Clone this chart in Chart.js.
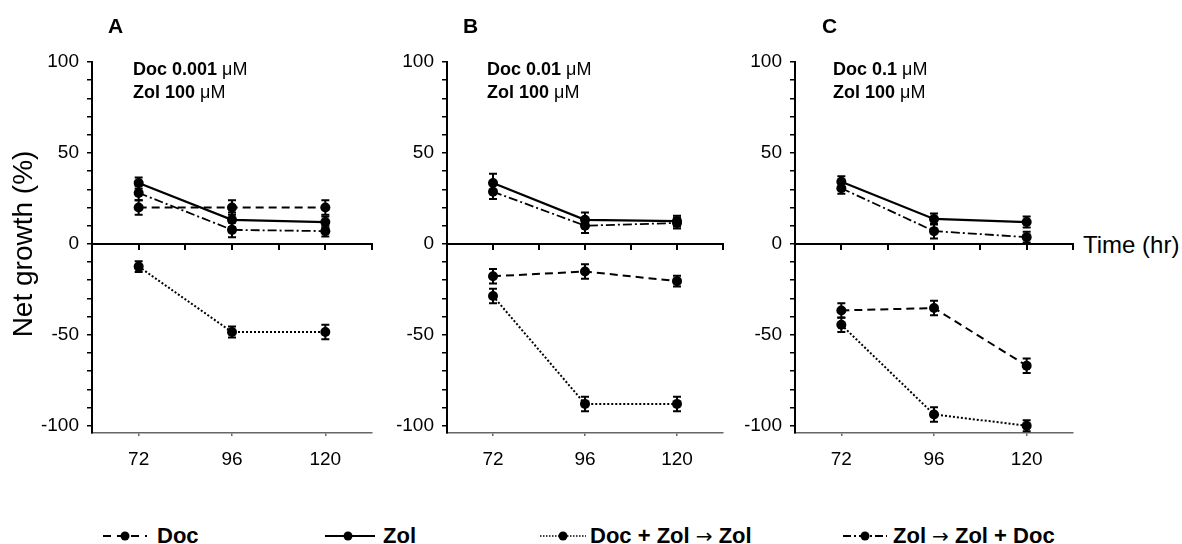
<!DOCTYPE html>
<html>
<head>
<meta charset="utf-8">
<script src="https://cdn.jsdelivr.net/npm/chart.js@4.4.1/dist/chart.umd.min.js"></script>
<style>
  body { margin: 0; background: #fff; font-family: "Liberation Sans", Arial, sans-serif; }
  #wrap { position: relative; width: 1182px; height: 544px; overflow: hidden; }
  .cv { position: absolute; top: 0; }
  .txt { position: absolute; white-space: nowrap; color: #000; }
  .letter { font-size: 21px; font-weight: bold; line-height: 21px; }
  .note { font-size: 18px; font-weight: bold; line-height: 23px; }
  .note span { font-weight: normal; }
  .leg { font-size: 22px; font-weight: bold; line-height: 22px; top: 525px; }
  .leg .arr { font-family: "DejaVu Sans", sans-serif; font-weight: normal; font-size: 20px; }
  .legsvg { position: absolute; top: 526px; }
</style>
</head>
<body>
<div id="wrap">
  <canvas id="cA" class="cv" width="380" height="480" style="left:0px;width:380px;height:480px"></canvas>
  <canvas id="cB" class="cv" width="335" height="480" style="left:397px;width:335px;height:480px"></canvas>
  <canvas id="cC" class="cv" width="337" height="480" style="left:745px;width:337px;height:480px"></canvas>

  <div class="txt letter" style="left:108px;top:15px">A</div>
  <div class="txt letter" style="left:463px;top:15px">B</div>
  <div class="txt letter" style="left:822px;top:15px">C</div>

  <div class="txt note" style="left:133px;top:58px">Doc 0.001 <span>μM</span><br>Zol 100 <span>μM</span></div>
  <div class="txt note" style="left:487px;top:58px">Doc 0.01 <span>μM</span><br>Zol 100 <span>μM</span></div>
  <div class="txt note" style="left:833px;top:58px">Doc 0.1 <span>μM</span><br>Zol 100 <span>μM</span></div>

  <div class="txt" style="left:-127px;top:230px;width:300px;text-align:center;font-size:28px;line-height:28px;transform:rotate(-90deg)">Net growth (%)</div>
  <div class="txt" style="left:1083px;top:233px;font-size:24px;line-height:24px">Time (hr)</div>

  <svg class="legsvg" style="left:103px" width="46" height="20">
    <line x1="0" y1="10" x2="44" y2="10" stroke="#000" stroke-width="2" stroke-dasharray="8,6"/>
    <circle cx="22" cy="10" r="4.5" fill="#000"/>
  </svg>
  <div class="txt leg" style="left:157px">Doc</div>

  <svg class="legsvg" style="left:325px" width="52" height="20">
    <line x1="0" y1="10" x2="50" y2="10" stroke="#000" stroke-width="2"/>
    <circle cx="23" cy="10" r="4.5" fill="#000"/>
  </svg>
  <div class="txt leg" style="left:383px">Zol</div>

  <svg class="legsvg" style="left:540px" width="48" height="20">
    <line x1="0" y1="10" x2="46" y2="10" stroke="#000" stroke-width="1.5" stroke-dasharray="1.5,1.5"/>
    <circle cx="23" cy="10" r="4.5" fill="#000"/>
  </svg>
  <div class="txt leg" style="left:590px">Doc + Zol <span class="arr">→</span> Zol</div>

  <svg class="legsvg" style="left:843px" width="46" height="20">
    <line x1="0" y1="10" x2="44" y2="10" stroke="#000" stroke-width="1.8" stroke-dasharray="8,3,2,3"/>
    <circle cx="22" cy="10" r="4.5" fill="#000"/>
  </svg>
  <div class="txt leg" style="left:893px">Zol <span class="arr">→</span> Zol + Doc</div>
</div>

<script>
// time points (hr)
const hours = [72, 96, 120];
const zeroAxisTicks = [60, 72, 84, 96, 108, 120, 132];
const yTicks = [-100, -90, -80, -70, -60, -50, -40, -30, -20, -10, 0, 10, 20, 30, 40, 50, 60, 70, 80, 90, 100];
const yLabels = [-100, -50, 0, 50, 100];

// Panel A: Doc 0.001 uM
const docA = [20, 20, 20];
const docErrA = [4, 4, 4];
const zolA = [33.5, 13.2, 12];
const zolErrA = [3, 4, 3];
const docZolA = [-12.5, -48.5, -48.5];
const docZolErrA = [3, 3, 4];
const zolDocA = [28, 7.7, 7];
const zolDocErrA = [4, 4, 3];

// Panel B: Doc 0.01 uM
const docB = [-17.8, -15.2, -20.5];
const docErrB = [4, 4, 3];
const zolB = [33.5, 13.2, 12.5];
const zolErrB = [5, 4, 3];
const docZolB = [-28.7, -88, -88];
const docZolErrB = [4, 4, 4];
const zolDocB = [28.7, 10, 11.5];
const zolDocErrB = [4, 4, 3];

// Panel C: Doc 0.1 uM
const docC = [-36.6, -35.3, -67];
const docErrC = [4, 4, 4];
const zolC = [34.2, 13.7, 12];
const zolErrC = [3, 3, 3];
const docZolC = [-44.5, -93.8, -100];
const docZolErrC = [4, 4, 3];
const zolDocC = [30.6, 7, 3.7];
const zolDocErrC = [3, 4, 3];

Chart.defaults.font.family = '"Liberation Sans", Arial, sans-serif';
Chart.defaults.color = '#000';

// vertical error bars with caps
const errorBars = {
  id: 'errorBars',
  afterDatasetsDraw(chart) {
    const ctx = chart.ctx;
    const ys = chart.scales.y;
    chart.data.datasets.forEach((ds, i) => {
      const meta = chart.getDatasetMeta(i);
      meta.data.forEach((pt, j) => {
        const v = ds.data[j].y, e = ds.err[j];
        const t = ys.getPixelForValue(v + e), b = ys.getPixelForValue(v - e);
        ctx.save();
        ctx.strokeStyle = '#000';
        ctx.lineWidth = 2;
        ctx.setLineDash([]);
        ctx.beginPath();
        ctx.moveTo(pt.x, t); ctx.lineTo(pt.x, b);
        ctx.moveTo(pt.x - 4, t); ctx.lineTo(pt.x + 4, t);
        ctx.moveTo(pt.x - 4, b); ctx.lineTo(pt.x + 4, b);
        ctx.stroke();
        ctx.restore();
      });
    });
  }
};

function series(vals, errs, dash, width) {
  return {
    data: hours.map((h, i) => ({ x: h, y: vals[i] })),
    err: errs,
    borderColor: '#000',
    backgroundColor: '#000',
    borderWidth: width,
    borderDash: dash,
    pointRadius: 5,
    pointHoverRadius: 5,
    pointBorderWidth: 0,
    pointBackgroundColor: '#000',
    tension: 0,
    clip: false
  };
}

function drawPanel(id, yWidth, padRight, doc, docErr, zol, zolErr, docZol, docZolErr, zolDoc, zolDocErr) {
  new Chart(document.getElementById(id), {
    type: 'line',
    data: {
      datasets: [
        series(doc, docErr, [8, 5], 2),
        series(zol, zolErr, [], 2.2),
        series(docZol, docZolErr, [2, 2], 2),
        series(zolDoc, zolDocErr, [9, 3, 2, 3], 1.8)
      ]
    },
    options: {
      responsive: false,
      animation: false,
      events: [],
      layout: { padding: { top: 62, right: padRight, bottom: 5, left: 0 } },
      plugins: { legend: { display: false }, tooltip: { enabled: false } },
      scales: {
        x: {
          type: 'linear', position: 'bottom', min: 60, max: 132,
          afterBuildTicks: s => { s.ticks = hours.map(v => ({ value: v })); },
          ticks: { font: { size: 19 }, color: '#000', padding: 12, autoSkip: false, maxRotation: 0 },
          grid: { drawOnChartArea: false, tickLength: 3, color: '#666', lineWidth: 1.5 },
          border: { color: '#666', width: 1.5 },
          afterFit: s => { s.height = 42; }
        },
        x0: {
          type: 'linear', position: { y: 0 }, min: 60, max: 132,
          afterBuildTicks: s => { s.ticks = zeroAxisTicks.map(v => ({ value: v })); },
          ticks: { display: false },
          grid: { drawOnChartArea: false, tickLength: 5, color: '#000', lineWidth: 2 },
          border: { color: '#000', width: 2 }
        },
        y: {
          min: -104, max: 100,
          afterBuildTicks: s => { s.ticks = yTicks.map(v => ({ value: v })); },
          ticks: {
            font: { size: 19 }, color: '#000', padding: 8, autoSkip: false,
            callback: v => yLabels.includes(v) ? String(v) : ''
          },
          grid: { drawOnChartArea: false, tickLength: 5, color: '#000', lineWidth: 1.5 },
          border: { color: '#000', width: 2 },
          afterFit: s => { s.width = yWidth; }
        }
      }
    },
    plugins: [errorBars]
  });
}

drawPanel('cA', 92, 8, docA, docErrA, zolA, zolErrA, docZolA, docZolErrA, zolDocA, zolDocErrA);
drawPanel('cB', 50, 9, docB, docErrB, zolB, zolErrB, docZolB, docZolErrB, zolDocB, zolDocErrB);
drawPanel('cC', 50, 9, docC, docErrC, zolC, zolErrC, docZolC, docZolErrC, zolDocC, zolDocErrC);
</script>
</body>
</html>
